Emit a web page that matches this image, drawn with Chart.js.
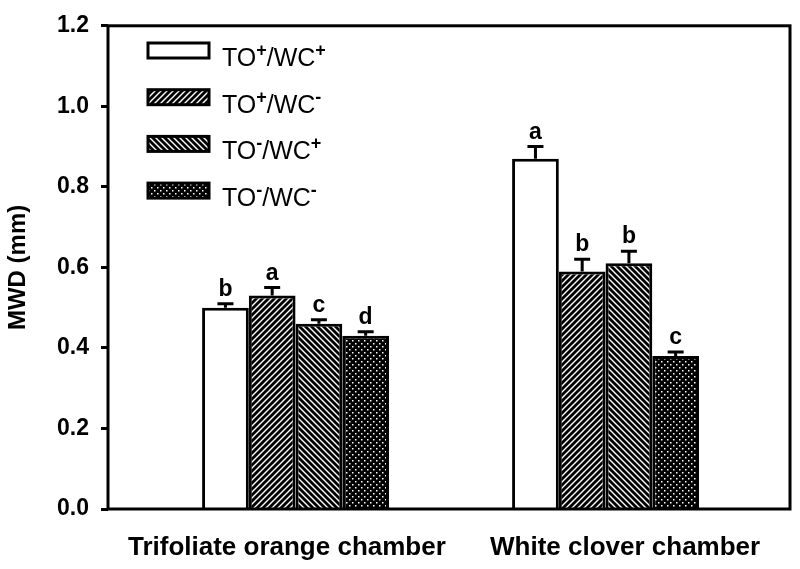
<!DOCTYPE html>
<html>
<head>
<meta charset="utf-8">
<script src="https://cdn.jsdelivr.net/npm/chart.js@4.4.0/dist/chart.umd.min.js"></script>
<style>
  html, body { margin: 0; padding: 0; background: #fff; }
</style>
</head>
<body>
<canvas id="mwd-chart" width="800" height="569"></canvas>
<script>
const chambers = ['Trifoliate orange chamber', 'White clover chamber'];
const seriesLabels = ['TO+/WC+', 'TO+/WC-', 'TO-/WC+', 'TO-/WC-'];
const patternKinds = ['blank', 'fwd', 'back', 'dots'];
const mwdValues = [
  [0.50, 0.87],
  [0.53, 0.59],
  [0.46, 0.61],
  [0.43, 0.38],
];
const mwdErrors = [
  [0.01, 0.03],
  [0.02, 0.03],
  [0.01, 0.03],
  [0.01, 0.01],
];
const sigLetters = [
  ['b', 'a'],
  ['a', 'b'],
  ['c', 'b'],
  ['d', 'c'],
];
const yTicks = [0, 0.2, 0.4, 0.6, 0.8, 1.0, 1.2];

const FONT = '"Liberation Sans", Arial, sans-serif';
// the category labels sit a little off the group centres, as in the original figure
const labelShift = [-0.028, 0.063];

function makePattern(kind) {
  if (kind === 'blank') return '#ffffff';
  const s = 6;
  const c = document.createElement('canvas');
  c.width = s; c.height = s;
  const g = c.getContext('2d');
  g.fillStyle = '#000';
  g.fillRect(0, 0, s, s);
  g.strokeStyle = '#fff';
  g.fillStyle = '#fff';
  g.lineWidth = 1.4;
  if (kind === 'fwd') {
    g.beginPath();
    g.moveTo(0, s); g.lineTo(s, 0);
    g.moveTo(-1, 1); g.lineTo(1, -1);
    g.moveTo(s - 1, s + 1); g.lineTo(s + 1, s - 1);
    g.stroke();
  } else if (kind === 'back') {
    g.beginPath();
    g.moveTo(0, 0); g.lineTo(s, s);
    g.moveTo(-1, s - 1); g.lineTo(1, s + 1);
    g.moveTo(s - 1, -1); g.lineTo(s + 1, 1);
    g.stroke();
  } else {
    g.fillRect(1, 1, 1.5, 1.5);
    g.fillRect(4, 4, 1.5, 1.5);
  }
  return g.createPattern(c, 'repeat');
}

const fills = patternKinds.map(makePattern);

function drawSupLabel(ctx, label, x, y) {
  const parts = label.split(/([+-])/).filter(p => p !== '');
  let cx = x;
  ctx.textBaseline = 'alphabetic';
  ctx.textAlign = 'left';
  parts.forEach(p => {
    if (p === '+' || p === '-') {
      ctx.font = 'bold 18px ' + FONT;
      ctx.fillText(p, cx, y - 10);
      cx += ctx.measureText(p).width;
    } else {
      ctx.font = '25px ' + FONT;
      ctx.fillText(p, cx, y);
      cx += ctx.measureText(p).width;
    }
  });
}

const extras = {
  id: 'extras',
  afterDatasetsDraw(chart) {
    const ctx = chart.ctx;
    const yScale = chart.scales.y;
    ctx.save();
    ctx.strokeStyle = '#000';
    ctx.fillStyle = '#000';
    chart.data.datasets.forEach((ds, i) => {
      const meta = chart.getDatasetMeta(i);
      meta.data.forEach((bar, j) => {
        const v = mwdValues[i][j];
        const top = yScale.getPixelForValue(v);
        const hi = yScale.getPixelForValue(v + mwdErrors[i][j]);
        ctx.lineWidth = 3;
        ctx.beginPath();
        ctx.moveTo(bar.x, top);
        ctx.lineTo(bar.x, hi);
        ctx.moveTo(bar.x - 8, hi);
        ctx.lineTo(bar.x + 8, hi);
        ctx.stroke();
        ctx.font = 'bold 23px ' + FONT;
        ctx.textAlign = 'center';
        ctx.textBaseline = 'alphabetic';
        ctx.fillText(sigLetters[i][j], bar.x, hi - 8);
      });
    });
    ctx.restore();
  },
  afterDraw(chart) {
    const ctx = chart.ctx;
    const a = chart.chartArea;
    ctx.save();
    ctx.strokeStyle = '#000';
    ctx.lineWidth = 3;
    ctx.strokeRect(a.left, a.top, a.right - a.left, a.bottom - a.top);

    // legend
    seriesLabels.forEach((label, i) => {
      const by = 43 + i * 46.7;
      ctx.fillStyle = fills[i];
      ctx.fillRect(148, by, 61, 15);
      ctx.lineWidth = 3;
      ctx.strokeStyle = '#000';
      ctx.strokeRect(148, by, 61, 15);
      ctx.fillStyle = '#000';
      drawSupLabel(ctx, label, 222, by + 23);
    });
    ctx.restore();
  }
};

const ctx = document.getElementById('mwd-chart').getContext('2d');
new Chart(ctx, {
  type: 'bar',
  data: {
    datasets: seriesLabels.map((label, i) => ({
      label,
      data: mwdValues[i].map((v, j) => ({ x: j, y: v })),
      backgroundColor: fills[i],
      borderColor: '#000',
      borderWidth: 3,
      borderSkipped: 'start',
      categoryPercentage: 0.603,
      barPercentage: 1.0,
    }))
  },
  options: {
    responsive: false,
    animation: false,
    layout: { padding: { left: 0, top: 19, right: 10, bottom: 0 } },
    plugins: {
      legend: { display: false },
      tooltip: { enabled: false }
    },
    scales: {
      x: {
        type: 'linear',
        offset: false,
        min: -0.605,
        max: 1.595,
        afterBuildTicks: axis => { axis.ticks = chambers.map((c, i) => ({ value: i + labelShift[i] })); },
        afterFit: axis => { axis.height = 60; },
        ticks: {
          callback: (v, idx) => chambers[idx],
          color: '#000',
          font: { family: FONT, size: 26, weight: 'bold' },
          padding: 23,
          maxRotation: 0,
          autoSkip: false
        },
        grid: { display: false, drawTicks: false },
        border: { display: false }
      },
      y: {
        min: 0,
        max: 1.2,
        afterBuildTicks: axis => { axis.ticks = yTicks.map(v => ({ value: v })); },
        afterFit: axis => { axis.width = 108; },
        ticks: {
          callback: v => v.toFixed(1),
          color: '#000',
          font: { family: FONT, size: 23, weight: 'bold' },
          padding: 12
        },
        grid: {
          drawOnChartArea: false,
          drawTicks: true,
          tickLength: 7,
          tickWidth: 3,
          tickColor: '#000'
        },
        border: { display: false },
        title: {
          display: true,
          text: 'MWD (mm)',
          color: '#000',
          font: { family: FONT, size: 24, weight: 'bold' },
          padding: { top: 4, bottom: 0 }
        }
      }
    }
  },
  plugins: [extras]
});
</script>
</body>
</html>
